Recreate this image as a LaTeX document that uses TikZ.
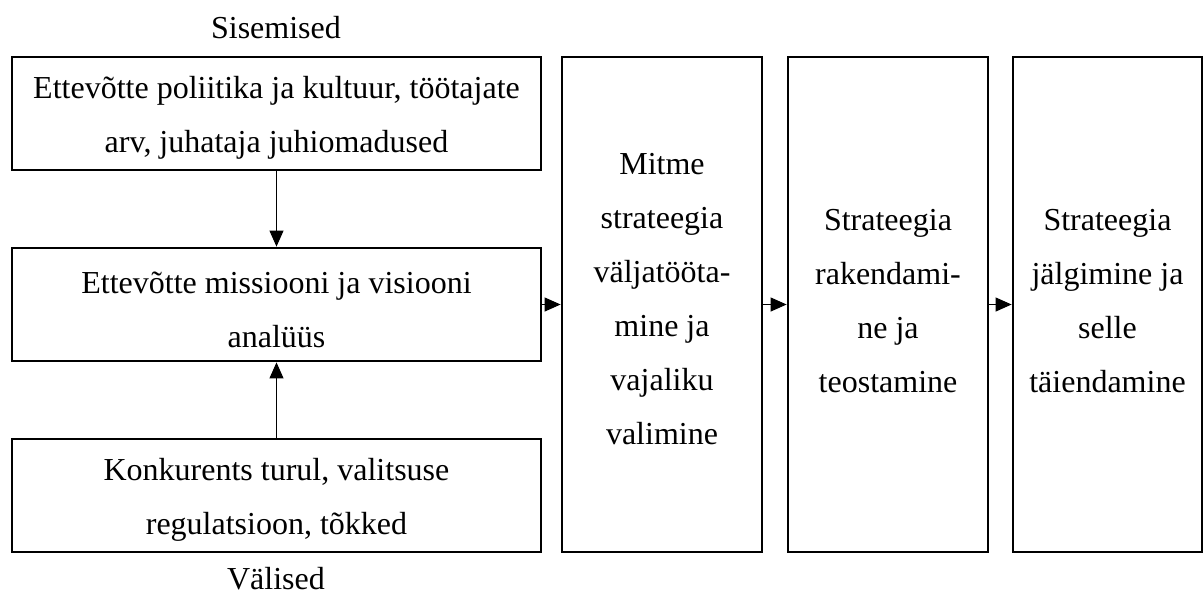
\documentclass[tikz,border=0pt]{standalone}
\usepackage{fontspec}
\setmainfont{Liberation Serif}
\usetikzlibrary{arrows.meta}
\begin{document}
\begin{tikzpicture}[x=1pt,y=-1pt,
  txt/.style={font=\fontsize{32pt}{54pt}\selectfont, inner sep=0pt, align=center},
  box/.style={draw, line width=2.8pt, inner sep=0pt},
  wide/.style={box, minimum width=529pt, minimum height=113pt},
  col/.style={box, minimum height=495pt},
  lbl/.style={txt},
  conn/.style={line width=1.1pt, -{Triangle[length=16pt,width=14pt]}}]
\useasboundingbox (0,0) rectangle (1204,598);
\node[wide, label={[txt,yshift=-4.5pt]center:Ettevõtte poliitika ja kultuur, töötajate\\arv, juhataja juhiomadused}] (top) at (276.5,113.5) {};
\node[wide, label={[txt,yshift=-5pt]center:Ettevõtte missiooni ja visiooni\\analüüs}] (mid) at (276.5,304.5) {};
\node[wide, label={[txt,yshift=-4pt]center:Konkurents turul, valitsuse\\regulatsioon, tõkked}] (bot) at (276.5,495.5) {};
\node[col, minimum width=200pt, label={[txt,yshift=5.5pt]center:Mitme\\strateegia\\väljatööta-\\mine ja\\vajaliku\\valimine}] (c1) at (662,304.5) {};
\node[col, minimum width=200pt, label={[txt,yshift=3pt]center:Strateegia\\rakendami-\\ne ja\\teostamine}] (c2) at (888,304.5) {};
\node[col, minimum width=189pt, label={[txt,yshift=3pt]center:Strateegia\\jälgimine ja\\selle\\täiendamine}] (c3) at (1107.5,304.5) {};
\node[lbl] (sis) at (276,28) {Sisemised};
\node[lbl] (val) at (276,579) {Välised};
\draw[conn] (top) -- (mid);
\draw[conn] (bot) -- (mid);
\draw[conn] (mid) -- (c1);
\draw[conn] (c1) -- (c2);
\draw[conn] (c2) -- (c3);
\end{tikzpicture}
\end{document}
